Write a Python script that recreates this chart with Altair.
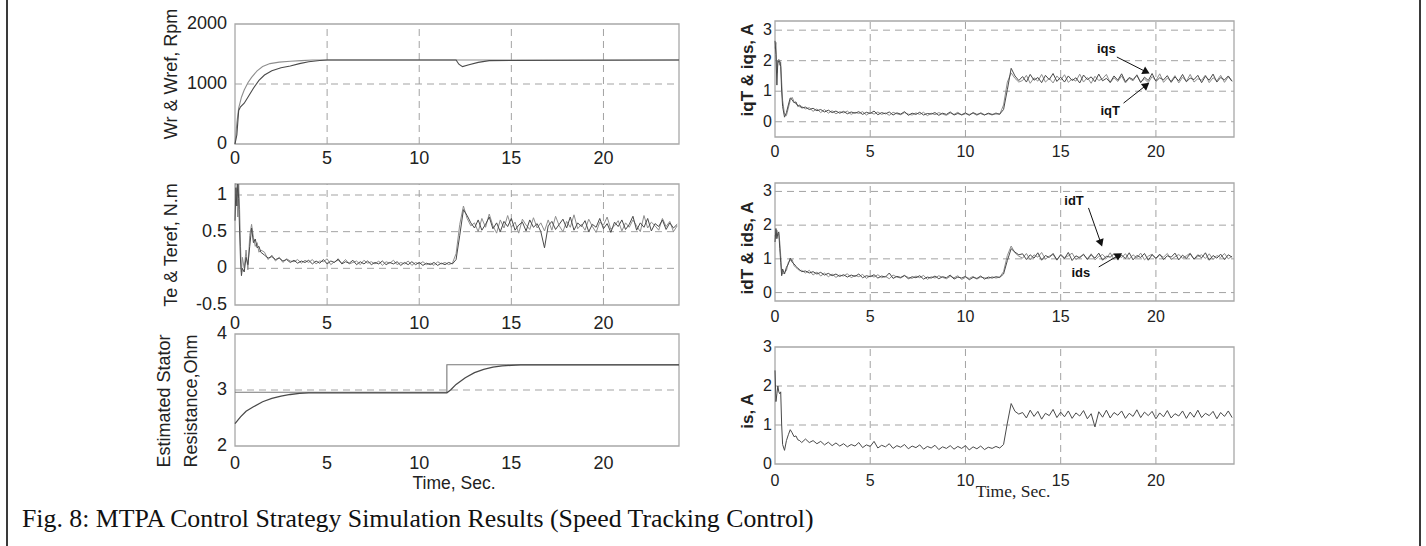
import altair as alt
import pandas as pd

# ---------------- data ----------------
X_DOMAIN = [0, 24.1]
X_TICKS = [0, 5, 10, 15, 20]

# transient sample times and steady-state sample times (s)
TRANS_T = [0.0, 0.05, 0.1, 0.15, 0.2, 0.25, 0.3, 0.35, 0.4, 0.5, 0.6, 0.7, 0.8, 0.9, 1.0, 1.1, 1.2, 1.3, 1.4]
STEADY_T = [round(1.6 + 0.2 * k, 2) for k in range(113)]

# Speed (rpm)
WR_T = [0, 0.1, 0.2, 0.3, 0.5, 0.7, 1.0, 1.3, 1.6, 2.0, 2.5, 3.0, 3.5, 4.0, 4.6, 5.0, 12.0, 12.15, 12.35, 12.7, 13.2, 13.8, 24.1]
WR = [0, 150, 560, 620, 680, 780, 930, 1060, 1150, 1220, 1270, 1300, 1340, 1370, 1392, 1400, 1400, 1330, 1290, 1320, 1360, 1390, 1400]
WREF_T = [0, 0.1, 0.2, 0.35, 0.5, 0.7, 0.9, 1.2, 1.5, 1.9, 2.4, 3.0, 3.6, 4.2, 24.1]
WREF = [0, 350, 600, 780, 900, 1020, 1110, 1220, 1290, 1340, 1365, 1380, 1390, 1400, 1400]

# Torque (N.m)
TE_TR = [0.65, 1.10, 0.85, 1.20, 0.95, 0.50, 0.10, -0.10, 0.00, -0.05, 0.15, 0.05, 0.30, 0.55, 0.35, 0.40, 0.28, 0.30, 0.22]
TE_A = [0.18, 0.14, 0.16, 0.12, 0.14, 0.10, 0.12, 0.08, 0.11, 0.07, 0.10, 0.08, 0.11, 0.06, 0.10, 0.07, 0.12, 0.06, 0.10, 0.08,
        0.13, 0.06, 0.09, 0.07, 0.11, 0.05, 0.09, 0.06, 0.10, 0.05, 0.08, 0.06, 0.10, 0.05, 0.08, 0.06, 0.09, 0.04, 0.08, 0.05,
        0.09, 0.05, 0.08, 0.04, 0.07, 0.05, 0.08, 0.04, 0.07, 0.05, 0.08, 0.06]
TE_R = [0.12, 0.45, 0.80, 0.72, 0.62]
TE_B = [0.55, 0.66, 0.52, 0.60, 0.70, 0.54, 0.62, 0.50, 0.64, 0.57, 0.68, 0.52, 0.59, 0.63, 0.51, 0.66, 0.56, 0.61, 0.50, 0.28,
        0.58, 0.64, 0.53, 0.60, 0.67, 0.55, 0.70, 0.52, 0.62, 0.57, 0.65, 0.50, 0.60, 0.56, 0.68, 0.54, 0.61, 0.49, 0.63, 0.57,
        0.66, 0.53, 0.60, 0.71, 0.52, 0.62, 0.56, 0.68, 0.51, 0.61, 0.57, 0.66, 0.53, 0.62, 0.55, 0.60]
TEREF_TR = [1.15, 1.20, 1.00, 0.70, 1.20, 0.80, 0.30, -0.05, 0.15, 0.00, 0.25, -0.02, 0.45, 0.60, 0.42, 0.30, 0.35, 0.22, 0.25]
TEREF_A = [0.22, 0.12, 0.18, 0.10, 0.15, 0.08, 0.13, 0.10, 0.09, 0.12, 0.07, 0.11, 0.08, 0.12, 0.06, 0.10, 0.09, 0.13, 0.05, 0.09,
           0.11, 0.07, 0.12, 0.06, 0.08, 0.10, 0.05, 0.11, 0.07, 0.09, 0.06, 0.10, 0.04, 0.09, 0.07, 0.11, 0.05, 0.08, 0.06, 0.10,
           0.04, 0.08, 0.06, 0.09, 0.05, 0.07, 0.04, 0.09, 0.06, 0.08, 0.05, 0.07]
TEREF_R = [0.20, 0.60, 0.85, 0.68, 0.58]
TEREF_B = [0.62, 0.50, 0.68, 0.56, 0.74, 0.58, 0.48, 0.66, 0.55, 0.72, 0.56, 0.63, 0.48, 0.67, 0.59, 0.53, 0.69, 0.55, 0.62, 0.51,
           0.66, 0.52, 0.71, 0.58, 0.50, 0.64, 0.56, 0.73, 0.54, 0.60, 0.52, 0.67, 0.57, 0.49, 0.63, 0.59, 0.70, 0.53, 0.58, 0.65,
           0.51, 0.62, 0.56, 0.66, 0.58, 0.50, 0.72, 0.55, 0.63, 0.58, 0.52, 0.68, 0.57, 0.64, 0.50, 0.58]

# Stator resistance (Ohm)
RS_REF_T = [0, 11.5, 11.5, 24.1]
RS_REF = [2.96, 2.96, 3.45, 3.45]
RS_EST_T = [0, 0.3, 0.6, 1.0, 1.5, 2.0, 2.5, 3.0, 3.5, 4.0, 5.0, 11.5, 11.7, 12.0, 12.5, 13.0, 13.5, 14.0, 14.5, 15.0, 15.5, 24.1]
RS_EST = [2.40, 2.52, 2.62, 2.70, 2.79, 2.85, 2.89, 2.92, 2.94, 2.95, 2.95, 2.95, 3.00, 3.10, 3.22, 3.31, 3.37, 3.41, 3.43, 3.44, 3.45, 3.45]

# q-axis currents (A)
IQS_TR = [2.65, 2.20, 1.20, 2.00, 1.95, 2.00, 1.80, 1.00, 0.50, 0.15, 0.30, 0.55, 0.78, 0.72, 0.62, 0.65, 0.50, 0.55, 0.45]
IQS_A = [0.48, 0.40, 0.44, 0.36, 0.40, 0.32, 0.38, 0.30, 0.35, 0.28, 0.34, 0.26, 0.32, 0.28, 0.33, 0.24, 0.31, 0.27, 0.35, 0.23,
         0.30, 0.26, 0.32, 0.22, 0.29, 0.25, 0.33, 0.21, 0.28, 0.24, 0.31, 0.22, 0.27, 0.25, 0.30, 0.21, 0.28, 0.24, 0.32, 0.22,
         0.27, 0.23, 0.29, 0.21, 0.30, 0.24, 0.27, 0.22, 0.28, 0.24, 0.26, 0.25]
IQS_R = [0.40, 1.05, 1.75, 1.50, 1.35]
IQS_B = [1.48, 1.30, 1.55, 1.36, 1.45, 1.28, 1.52, 1.38, 1.58, 1.32, 1.46, 1.30, 1.50, 1.35, 1.44, 1.27, 1.53, 1.38, 1.47, 1.31,
         1.56, 1.34, 1.42, 1.29, 1.50, 1.36, 1.57, 1.31, 1.45, 1.38, 1.52, 1.28, 1.46, 1.35, 1.58, 1.32, 1.44, 1.37, 1.51, 1.29,
         1.47, 1.34, 1.55, 1.31, 1.43, 1.38, 1.52, 1.28, 1.49, 1.36, 1.56, 1.30, 1.45, 1.37, 1.50, 1.33]
IQT_TR = [2.40, 2.60, 1.60, 1.90, 2.05, 1.85, 1.95, 1.30, 0.70, 0.25, 0.20, 0.45, 0.70, 0.80, 0.66, 0.58, 0.55, 0.48, 0.50]
IQT_A = [0.42, 0.46, 0.34, 0.42, 0.30, 0.40, 0.28, 0.36, 0.26, 0.33, 0.29, 0.35, 0.24, 0.31, 0.27, 0.33, 0.22, 0.30, 0.25, 0.32,
         0.24, 0.29, 0.21, 0.31, 0.26, 0.23, 0.30, 0.25, 0.22, 0.29, 0.24, 0.31, 0.20, 0.28, 0.23, 0.30, 0.25, 0.21, 0.29, 0.24,
         0.31, 0.22, 0.26, 0.24, 0.28, 0.21, 0.30, 0.23, 0.26, 0.22, 0.29, 0.24]
IQT_R = [0.55, 1.30, 1.60, 1.42, 1.30]
IQT_B = [1.35, 1.52, 1.26, 1.44, 1.33, 1.55, 1.30, 1.42, 1.27, 1.50, 1.36, 1.54, 1.29, 1.40, 1.33, 1.56, 1.30, 1.45, 1.26, 1.49,
         1.35, 1.41, 1.55, 1.28, 1.44, 1.32, 1.50, 1.27, 1.42, 1.34, 1.54, 1.30, 1.40, 1.28, 1.48, 1.35, 1.57, 1.29, 1.43, 1.33,
         1.51, 1.27, 1.46, 1.32, 1.55, 1.30, 1.41, 1.36, 1.53, 1.28, 1.44, 1.34, 1.52, 1.29, 1.47, 1.32]

# d-axis currents (A)
IDS_TR = [1.50, 1.90, 1.60, 1.75, 1.80, 1.30, 0.90, 0.50, 0.70, 0.55, 0.75, 0.85, 1.02, 0.90, 0.85, 0.78, 0.72, 0.68, 0.62]
IDS_A = [0.64, 0.58, 0.62, 0.55, 0.60, 0.52, 0.57, 0.50, 0.55, 0.48, 0.53, 0.46, 0.52, 0.48, 0.55, 0.44, 0.50, 0.47, 0.53, 0.43,
         0.49, 0.46, 0.58, 0.42, 0.48, 0.45, 0.51, 0.41, 0.47, 0.44, 0.50, 0.40, 0.46, 0.43, 0.49, 0.41, 0.47, 0.44, 0.52, 0.40,
         0.46, 0.43, 0.48, 0.38, 0.45, 0.42, 0.49, 0.40, 0.46, 0.43, 0.47, 0.45]
IDS_R = [0.55, 0.95, 1.30, 1.20, 1.12]
IDS_B = [1.15, 0.98, 1.12, 1.02, 1.18, 0.96, 1.10, 1.04, 1.16, 0.97, 1.11, 1.01, 1.19, 0.95, 1.09, 1.03, 1.14, 0.98, 1.12, 1.02,
         1.17, 0.96, 1.08, 1.05, 1.15, 0.99, 1.11, 1.01, 1.18, 0.97, 1.10, 1.04, 1.16, 0.96, 1.12, 1.02, 1.14, 0.98, 1.09, 1.05,
         1.17, 0.97, 1.11, 1.01, 1.15, 0.99, 1.12, 1.03, 1.18, 0.96, 1.10, 1.02, 1.14, 0.98, 1.12, 1.05]
IDT_TR = [1.70, 1.60, 1.85, 1.70, 1.75, 1.50, 1.10, 0.65, 0.55, 0.60, 0.65, 0.90, 0.95, 0.98, 0.80, 0.74, 0.70, 0.64, 0.66]
IDT_A = [0.58, 0.66, 0.52, 0.61, 0.49, 0.58, 0.47, 0.55, 0.45, 0.52, 0.49, 0.56, 0.44, 0.51, 0.47, 0.54, 0.42, 0.50, 0.46, 0.53,
         0.44, 0.48, 0.41, 0.52, 0.46, 0.43, 0.50, 0.45, 0.42, 0.49, 0.44, 0.51, 0.39, 0.47, 0.43, 0.50, 0.45, 0.41, 0.48, 0.44,
         0.50, 0.39, 0.45, 0.42, 0.48, 0.40, 0.46, 0.44, 0.41, 0.47, 0.43, 0.46]
IDT_R = [0.62, 1.10, 1.38, 1.18, 1.08]
IDT_B = [1.02, 1.16, 0.97, 1.12, 1.05, 1.19, 0.99, 1.08, 1.13, 0.96, 1.14, 1.03, 1.09, 1.17, 0.98, 1.06, 1.12, 1.00, 1.15, 0.97,
         1.07, 1.13, 1.01, 1.18, 0.98, 1.10, 1.04, 1.15, 0.99, 1.12, 1.03, 1.17, 0.97, 1.08, 1.14, 1.00, 1.11, 1.05, 1.16, 0.98,
         1.06, 1.13, 1.02, 1.09, 1.17, 0.99, 1.07, 1.12, 1.01, 1.15, 0.98, 1.10, 1.04, 1.16, 1.00, 1.08]

# stator current magnitude (A)
IS_TR = [2.40, 1.60, 1.80, 2.00, 1.85, 1.80, 1.85, 1.00, 0.50, 0.35, 0.60, 0.75, 0.88, 0.80, 0.70, 0.72, 0.62, 0.60, 0.55]
IS_A = [0.64, 0.55, 0.60, 0.52, 0.58, 0.49, 0.56, 0.47, 0.54, 0.46, 0.52, 0.44, 0.50, 0.46, 0.55, 0.42, 0.49, 0.45, 0.58, 0.41,
        0.48, 0.44, 0.52, 0.40, 0.47, 0.43, 0.50, 0.39, 0.46, 0.42, 0.49, 0.38, 0.45, 0.41, 0.48, 0.37, 0.44, 0.40, 0.47, 0.38,
        0.45, 0.40, 0.47, 0.36, 0.44, 0.39, 0.46, 0.37, 0.43, 0.40, 0.45, 0.41]
IS_R = [0.50, 1.05, 1.55, 1.35, 1.28]
IS_B = [1.32, 1.18, 1.38, 1.22, 1.35, 1.15, 1.30, 1.24, 1.40, 1.19, 1.33, 1.21, 1.36, 1.17, 1.31, 1.23, 1.37, 1.16, 1.29, 0.95,
        1.34, 1.20, 1.38, 1.18, 1.32, 1.25, 1.36, 1.17, 1.30, 1.22, 1.39, 1.19, 1.33, 1.24, 1.35, 1.16, 1.31, 1.21, 1.37, 1.18,
        1.29, 1.23, 1.36, 1.17, 1.33, 1.20, 1.38, 1.19, 1.30, 1.24, 1.35, 1.16, 1.32, 1.22, 1.36, 1.19]

# annotations (data units of their panels)
IQ_LABELS = ["iqs", "iqT"]
IQ_LX = [17.4, 17.6]
IQ_LY = [2.38, 0.35]
IQ_AX0 = [17.95, 18.3]
IQ_AY0 = [2.12, 0.61]
IQ_AX1 = [19.5, 19.5]
IQ_AY1 = [1.63, 1.20]
IQ_ANG = [27, 322]

ID_LABELS = ["idT", "ids"]
ID_LX = [15.7, 16.06]
ID_LY = [2.72, 0.58]
ID_AX0 = [16.46, 17.0]
ID_AY0 = [2.51, 0.76]
ID_AX1 = [17.11, 18.06]
ID_AY1 = [1.47, 1.11]
ID_ANG = [70, 329]

CAPTION = "Fig. 8: MTPA Control Strategy Simulation Results (Speed Tracking Control)"

# ---------------- style ----------------
FONT = "Liberation Sans"
SERIF = "Liberation Serif"
DARK = "#4a4a4a"
LIGHT = "#8e8e8e"
GRIDC = "#a3a3a3"
BOXC = "#a8a8a8"
TXT = "#222222"
W, H = 1426, 546
LEFT_X = [235, 679]
RIGHT_X = [775, 1234]
GRID_X = [5, 10, 15, 20]


def noisy(tr, a, r, b):
    vals = list(tr) + list(a) + list(r) + list(b)
    ts = list(TRANS_T) + list(STEADY_T)
    return pd.DataFrame({"t": ts, "v": vals, "i": list(range(len(vals)))})


def smooth(ts, vs):
    return pd.DataFrame({"t": ts, "v": vs, "i": list(range(len(vs)))})


def fmt(v):
    return "%g" % v


def panel(xr, ydom, yr, yticks, ygrid, xgrid, series, style, notes=None):
    xs = alt.Scale(domain=X_DOMAIN, range=xr, nice=False, zero=False, clamp=True)
    ys = alt.Scale(domain=ydom, range=yr, nice=False, zero=False, clamp=True)

    def X(f):
        return alt.X(f, scale=xs, axis=None)

    def Y(f):
        return alt.Y(f, scale=ys, axis=None)

    box_df = pd.DataFrame({"x0": [X_DOMAIN[0]], "x1": [X_DOMAIN[1]], "y0": [ydom[0]], "y1": [ydom[1]]})
    layers = [alt.Chart(box_df).mark_rect(fill="white", fillOpacity=0, stroke=BOXC, strokeWidth=1.3).encode(
        x=X("x0:Q"), x2="x1:Q", y=Y("y0:Q"), y2="y1:Q")]
    rows = [(g, ydom[0], g, ydom[1]) for g in xgrid] + [(X_DOMAIN[0], h, X_DOMAIN[1], h) for h in ygrid]
    gdf = pd.DataFrame(rows, columns=["x0", "y0", "x1", "y1"])
    layers.append(alt.Chart(gdf).mark_rule(color=GRIDC, strokeWidth=1, strokeDash=[7, 5]).encode(
        x=X("x0:Q"), x2="x1:Q", y=Y("y0:Q"), y2="y1:Q"))
    for df, color, sw in series:
        layers.append(alt.Chart(df).mark_line(color=color, strokeWidth=sw).encode(
            x=X("t:Q"), y=Y("v:Q"), order=alt.Order("i:Q")))

    # tick labels (from tick arrays, positioned through the scales)
    ydf = pd.DataFrame({"x": [X_DOMAIN[0]] * len(yticks), "v": yticks, "lab": [fmt(v) for v in yticks]})
    layers.append(alt.Chart(ydf).mark_text(align="right", baseline="middle", dx=-style["ypad"],
                                           font=FONT, fontSize=style["lfs"], color=TXT).encode(
        x=X("x:Q"), y=Y("v:Q"), text="lab:N"))
    xdf = pd.DataFrame({"t": X_TICKS, "y": [ydom[0]] * len(X_TICKS), "lab": [fmt(v) for v in X_TICKS]})
    layers.append(alt.Chart(xdf).mark_text(align="center", baseline="top", dy=style["xpad"],
                                           font=FONT, fontSize=style["lfs"], color=TXT).encode(
        x=X("t:Q"), y=Y("y:Q"), text="lab:N"))

    # y title
    tkw = dict(align="center", baseline="alphabetic", angle=270, font=FONT,
               fontSize=style["tfs"], fontWeight=style.get("tw", "normal"), color=TXT)
    if "lh" in style:
        tkw["lineHeight"] = style["lh"]
    tdf = pd.DataFrame({"k": [0]})
    layers.append(alt.Chart(tdf).mark_text(text=style["ytitle"], **tkw).encode(
        x=alt.value(style["tx"]), y=alt.value(style["ty"])))
    if "xtitle" in style:
        layers.append(alt.Chart(tdf).mark_text(text=style["xtitle"], align="center", baseline="alphabetic",
                                               font=style["xfont"], fontSize=style["xfs"], color=TXT).encode(
            x=alt.value(style["xtx"]), y=alt.value(style["xty"])))

    if notes is not None:
        ndf, adf = notes
        layers.append(alt.Chart(ndf).mark_text(font=FONT, fontSize=13, fontWeight="bold", color="#111",
                                               align="center", baseline="middle").encode(
            x=X("x:Q"), y=Y("y:Q"), text="label:N"))
        layers.append(alt.Chart(adf).mark_rule(color="#111", strokeWidth=1).encode(
            x=X("x0:Q"), x2="x1:Q", y=Y("y0:Q"), y2="y1:Q"))
        layers.append(alt.Chart(adf).mark_point(shape="triangle-right", filled=True, size=70,
                                                color="#111", opacity=1).encode(
            x=X("x1:Q"), y=Y("y1:Q"), angle=alt.Angle("ang:Q", scale=None)))
    return alt.layer(*layers)


# ---- left column ----
L1 = panel(LEFT_X, [0, 2000], [144, 24], [0, 1000, 2000], [1000], GRID_X,
           [(smooth(WREF_T, WREF), LIGHT, 1.1), (smooth(WR_T, WR), DARK, 1.1)],
           dict(ypad=8, xpad=6, lfs=18, tfs=18, ytitle="Wr & Wref, Rpm", tx=176.5, ty=74))
L2 = panel(LEFT_X, [-0.5, 1.15], [305, 184], [-0.5, 0, 0.5, 1], [0, 0.5, 1], GRID_X,
           [(noisy(TEREF_TR, TEREF_A, TEREF_R, TEREF_B), LIGHT, 1), (noisy(TE_TR, TE_A, TE_R, TE_B), DARK, 1)],
           dict(ypad=8, xpad=10, lfs=18, tfs=18, ytitle="Te & Teref, N.m", tx=176.5, ty=245))
L3 = panel(LEFT_X, [2, 4], [446, 334], [2, 3, 4], [3], [],
           [(smooth(RS_REF_T, RS_REF), "#777777", 1.1), (smooth(RS_EST_T, RS_EST), DARK, 1.3)],
           dict(ypad=8, xpad=9, lfs=18, tfs=18, ytitle=["Estimated Stator", "Resistance,Ohm"], lh=27,
                tx=170, ty=401, xtitle="Time, Sec.", xfont=FONT, xfs=17.5, xtx=454, xty=489))

# ---- right column ----
iq_notes = (pd.DataFrame({"label": IQ_LABELS, "x": IQ_LX, "y": IQ_LY}),
            pd.DataFrame({"x0": IQ_AX0, "y0": IQ_AY0, "x1": IQ_AX1, "y1": IQ_AY1, "ang": IQ_ANG}))
id_notes = (pd.DataFrame({"label": ID_LABELS, "x": ID_LX, "y": ID_LY}),
            pd.DataFrame({"x0": ID_AX0, "y0": ID_AY0, "x1": ID_AX1, "y1": ID_AY1, "ang": ID_ANG}))

R1 = panel(RIGHT_X, [-0.5, 3.3], [137, 21], [0, 1, 2, 3], [0, 1, 2, 3], GRID_X,
           [(noisy(IQT_TR, IQT_A, IQT_R, IQT_B), LIGHT, 1), (noisy(IQS_TR, IQS_A, IQS_R, IQS_B), DARK, 1)],
           dict(ypad=3, xpad=7, lfs=16, tfs=17, tw="bold", ytitle="iqT & iqs, A", tx=753, ty=70),
           iq_notes)
R2 = panel(RIGHT_X, [-0.25, 3.25], [301, 183], [0, 1, 2, 3], [0, 1, 2, 3], GRID_X,
           [(noisy(IDT_TR, IDT_A, IDT_R, IDT_B), LIGHT, 1), (noisy(IDS_TR, IDS_A, IDS_R, IDS_B), DARK, 1)],
           dict(ypad=3, xpad=8, lfs=16, tfs=17, tw="bold", ytitle="idT & ids, A", tx=753, ty=248),
           id_notes)
R3 = panel(RIGHT_X, [0, 3], [464, 347], [0, 1, 2, 3], [1, 2], GRID_X,
           [(noisy(IS_TR, IS_A, IS_R, IS_B), DARK, 1)],
           dict(ypad=3, xpad=9, lfs=16, tfs=17, tw="bold", ytitle="is, A", tx=753, ty=411,
                xtitle="Time, Sec.", xfont=SERIF, xfs=17.5, xtx=1013, xty=497))

# ---- frame and caption ----
frame_l = alt.Chart(pd.DataFrame({"k": [0]})).mark_rule(color="#3a3a3a", strokeWidth=2).encode(
    x=alt.value(7), y=alt.value(0), y2=alt.value(H))
frame_r = alt.Chart(pd.DataFrame({"k": [0]})).mark_rule(color="#3a3a3a", strokeWidth=2).encode(
    x=alt.value(1420), y=alt.value(0), y2=alt.value(H))
caption = alt.Chart(pd.DataFrame({"txt": [CAPTION]})).mark_text(
    font=SERIF, fontSize=25.8, color="#111", align="left", baseline="alphabetic").encode(
    x=alt.value(22), y=alt.value(527), text="txt:N")

chart = alt.layer(L1, L2, L3, R1, R2, R3, frame_l, frame_r, caption).resolve_scale(
    x="independent", y="independent"
).properties(
    width=W, height=H, padding=0, autosize=alt.AutoSizeParams(type="none"), background="white"
).configure_view(stroke="transparent")

chart.save("out.html", embed_options={"renderer": "svg", "actions": False})
